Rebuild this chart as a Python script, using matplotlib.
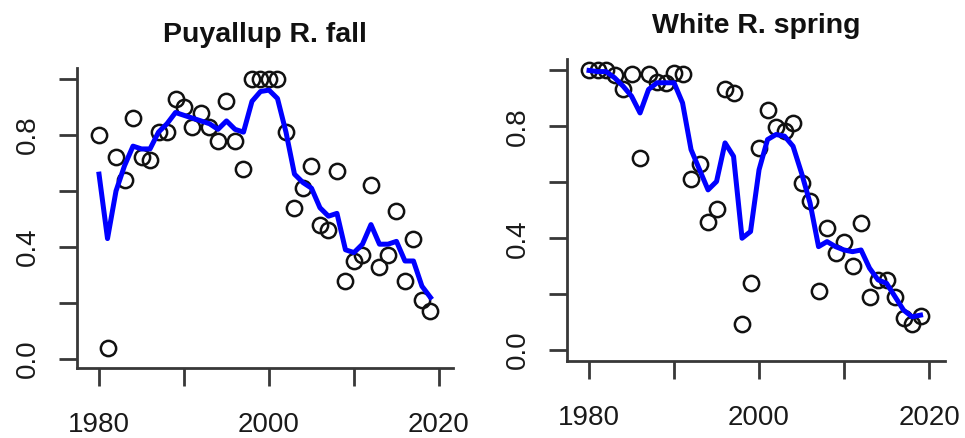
import numpy as np
import matplotlib
matplotlib.use("Agg")
import matplotlib.pyplot as plt

plt.rcParams['font.family'] = ['Liberation Sans', 'DejaVu Sans']

years = np.arange(1980, 2020)

# Puyallup R. fall: observed points and fitted line
puy_obs = [0.80, 0.04, 0.72, 0.64, 0.86, 0.72, 0.71, 0.81, 0.81, 0.93,
           0.90, 0.83, 0.88, 0.83, 0.78, 0.92, 0.78, 0.68, 1.00, 1.00,
           1.00, 1.00, 0.81, 0.54, 0.61, 0.69, 0.48, 0.46, 0.67, 0.28,
           0.35, 0.37, 0.62, 0.33, 0.37, 0.53, 0.28, 0.43, 0.21, 0.17]
puy_fit = [0.66, 0.43, 0.60, 0.69, 0.76, 0.75, 0.75, 0.81, 0.84, 0.88,
           0.87, 0.86, 0.85, 0.84, 0.82, 0.85, 0.82, 0.81, 0.92, 0.955,
           0.96, 0.93, 0.81, 0.66, 0.63, 0.61, 0.54, 0.51, 0.52, 0.39,
           0.38, 0.41, 0.48, 0.41, 0.41, 0.42, 0.35, 0.35, 0.26, 0.22]

# White R. spring
white_obs = [1.00, 1.00, 1.00, 0.985, 0.934, 0.988, 0.687, 0.988, 0.96, 0.956,
             0.99, 0.988, 0.612, 0.665, 0.458, 0.504, 0.934, 0.92, 0.092, 0.239,
             0.723, 0.858, 0.797, 0.783, 0.812, 0.597, 0.534, 0.213, 0.438, 0.349,
             0.385, 0.301, 0.456, 0.191, 0.251, 0.251, 0.189, 0.113, 0.093, 0.122]
white_fit = [1.00, 0.996, 0.996, 0.974, 0.944, 0.908, 0.848, 0.932, 0.956, 0.956,
             0.956, 0.884, 0.717, 0.645, 0.573, 0.603, 0.741, 0.693, 0.40, 0.424,
             0.645, 0.753, 0.771, 0.765, 0.729, 0.633, 0.526, 0.37, 0.388, 0.37,
             0.358, 0.352, 0.358, 0.293, 0.251, 0.239, 0.191, 0.143, 0.119, 0.125]

titles = ["Puyallup R. fall", "White R. spring"]
xticks_all = [1980, 1990, 2000, 2010, 2020]
xtick_labels = ["1980", "", "2000", "", "2020"]
yticks_all = [0.0, 0.2, 0.4, 0.6, 0.8, 1.0]
ytick_labels = ["0.0", "", "0.4", "", "0.8", ""]

axis_col = '#383838'

fig = plt.figure(figsize=(9.65, 4.38), dpi=100)
ax1 = fig.add_axes([0.0798, 0.1598, 0.3896, 0.685])
ax2 = fig.add_axes([0.5876, 0.1758, 0.3917, 0.6895])

panels = [(ax1, puy_obs, puy_fit, (1977.41, 2021.65), (-0.032, 1.039)),
          (ax2, white_obs, white_fit, (1977.41, 2021.88), (-0.039, 1.041))]

for (ax, obs, fit, xl, yl), title in zip(panels, titles):
  ax.plot(years, obs, 'o', markersize=11, markerfacecolor='none',
          markeredgecolor='#111111', markeredgewidth=1.8, zorder=2)
  ax.plot(years, fit, color='#0000ff', linewidth=3.6, zorder=3,
          solid_joinstyle='round')
  ax.set_xlim(*xl)
  ax.set_ylim(*yl)
  ax.set_xticks(xticks_all)
  ax.set_xticklabels(xtick_labels)
  ax.set_yticks(yticks_all)
  ax.set_yticklabels(ytick_labels, rotation=90, va='center')
  for s in ['top', 'right']:
    ax.spines[s].set_visible(False)
  for s in ['left', 'bottom']:
    ax.spines[s].set_color(axis_col)
    ax.spines[s].set_linewidth(2.0)
  ax.tick_params(axis='both', direction='out', length=13, width=2.0,
                 color=axis_col, labelsize=20, labelcolor='#1a1a1a')
  ax.tick_params(axis='x', pad=19)
  ax.tick_params(axis='y', pad=13)
  ax.set_title(title, fontsize=20.5, fontweight='bold', pad=19, color='#111111')

fig.savefig('out.png', dpi=100)
